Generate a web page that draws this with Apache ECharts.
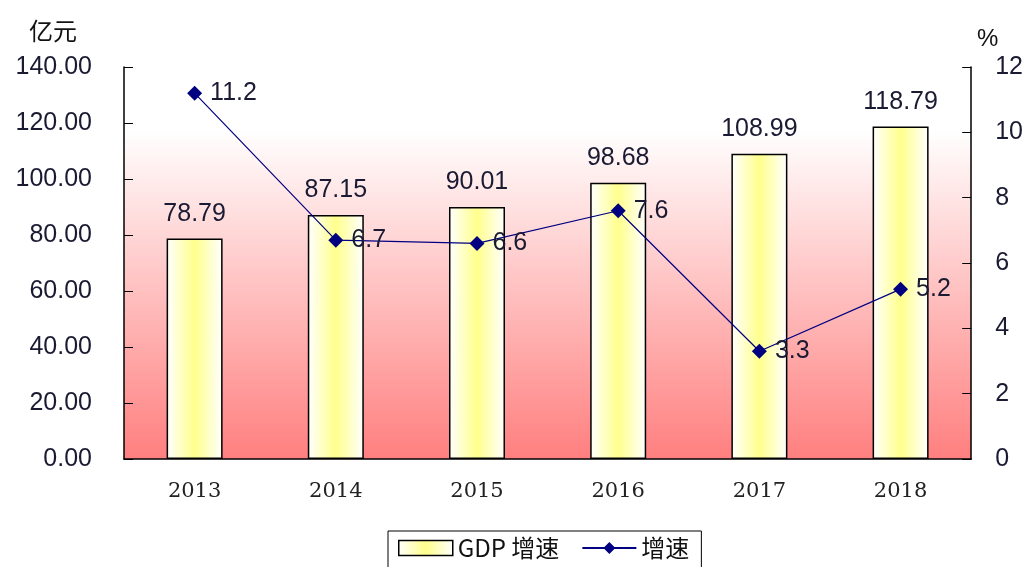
<!DOCTYPE html>
<html>
<head>
<meta charset="utf-8">
<script src="https://cdn.jsdelivr.net/npm/echarts@6/dist/echarts.min.js"></script>
<style>html,body{margin:0;padding:0;background:#fff;}#c{width:1026px;height:567px;}</style>
</head>
<body>
<div id="c"></div>
<script>
const categories = ['2013', '2014', '2015', '2016', '2017', '2018'];
const gdpValues = [78.79, 87.15, 90.01, 98.68, 108.99, 118.79];
const growthValues = [11.2, 6.7, 6.6, 7.6, 3.3, 5.2];
const leftTicks = { min: 0, max: 140, interval: 20 };
const rightTicks = { min: 0, max: 12, interval: 2 };

const chart = echarts.init(document.getElementById('c'), null, { renderer: 'canvas' });
const numFont = '"Liberation Sans", Arial, sans-serif';
const cjkFont = '"Noto Sans CJK SC", sans-serif';

const barFill = new echarts.graphic.LinearGradient(0, 0, 1, 0, [
  { offset: 0, color: '#ffffff' },
  { offset: 0.5, color: '#ffff8c' },
  { offset: 1, color: '#ffffff' }
]);
const bgFill = new echarts.graphic.LinearGradient(0, 0, 0, 1, [
  { offset: 0, color: '#ffffff' },
  { offset: 0.16, color: '#ffffff' },
  { offset: 1, color: '#ff7f7f' }
]);

chart.setOption({
  animation: false,
  backgroundColor: '#ffffff',
  title: [
    { text: '亿元', left: 24, top: 14, textStyle: { fontFamily: cjkFont, fontSize: 24, fontWeight: 'normal', color: '#111' } },
    { text: '%', left: 972, top: 22, textStyle: { fontFamily: numFont, fontSize: 24, fontWeight: 'normal', color: '#111' } }
  ],
  grid: {
    left: 124, right: 53, top: 67, bottom: 108,
    show: true, backgroundColor: bgFill, borderWidth: 0
  },
  legend: {
    left: 388, top: 531,
    padding: [5, 12, 10, 10],
    borderColor: '#000', borderWidth: 1,
    itemGap: 22,
    itemWidth: 54, itemHeight: 15,
    textStyle: { fontFamily: cjkFont, fontSize: 24, color: '#111' },
    data: [
      { name: 'GDP 增速', icon: 'rect', itemStyle: { color: barFill, borderColor: '#000', borderWidth: 1.5 } },
      { name: '增速' }
    ]
  },
  xAxis: {
    type: 'category',
    data: categories,
    axisLine: { lineStyle: { color: '#000', width: 1.5 } },
    axisTick: { inside: true, length: 8, lineStyle: { color: '#000' } },
    axisLabel: { margin: 22, fontFamily: '"DejaVu Serif", serif', fontSize: 21, color: '#222' }
  },
  yAxis: [
    {
      type: 'value', min: leftTicks.min, max: leftTicks.max, interval: leftTicks.interval,
      axisLine: { show: true, lineStyle: { color: '#000', width: 1.5 } },
      axisTick: { show: true, inside: true, length: 9, lineStyle: { color: '#000' } },
      splitLine: { show: false },
      axisLabel: { margin: 32, fontFamily: numFont, fontSize: 25, color: '#1a1a33', formatter: v => v.toFixed(2) }
    },
    {
      type: 'value', min: rightTicks.min, max: rightTicks.max, interval: rightTicks.interval,
      position: 'right',
      axisLine: { show: true, lineStyle: { color: '#000', width: 1.5 } },
      axisTick: { show: true, inside: true, length: 9, lineStyle: { color: '#000' } },
      splitLine: { show: false },
      axisLabel: { margin: 24, fontFamily: numFont, fontSize: 25, color: '#1a1a33' }
    }
  ],
  series: [
    {
      name: 'GDP 增速',
      type: 'bar',
      yAxisIndex: 0,
      data: gdpValues,
      barWidth: 56,
      itemStyle: { color: barFill, borderColor: '#000', borderWidth: 1.5 },
      label: { show: true, position: 'top', distance: 12, fontFamily: numFont, fontSize: 25, color: '#1a1a33', formatter: p => p.value.toFixed(2) }
    },
    {
      name: '增速',
      type: 'line',
      yAxisIndex: 1,
      data: growthValues,
      symbol: 'diamond',
      symbolSize: 15,
      lineStyle: { color: '#000080', width: 1.2 },
      itemStyle: { color: '#000080' },
      label: { show: true, position: 'right', distance: 8, fontFamily: numFont, fontSize: 25, color: '#1a1a33' }
    }
  ]
});
</script>
</body>
</html>
